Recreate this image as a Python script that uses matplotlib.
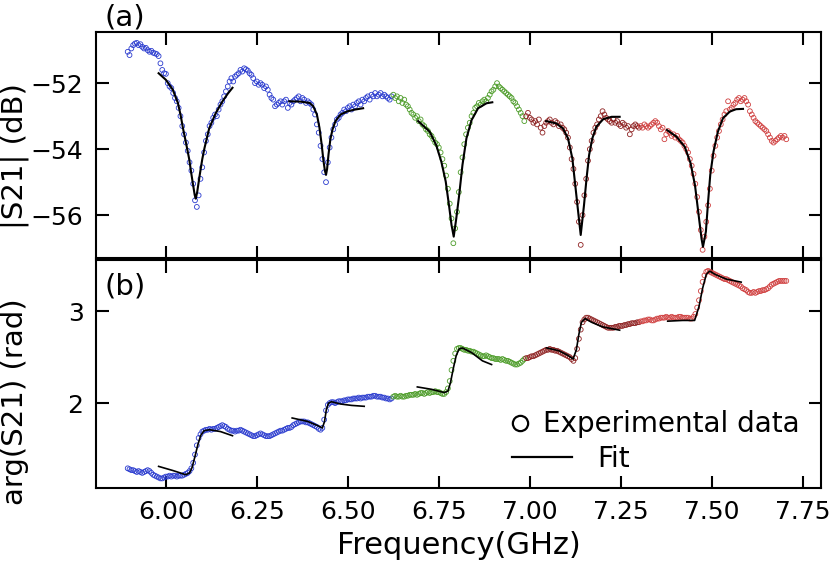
import numpy as np
import matplotlib
matplotlib.use("Agg")
import matplotlib.pyplot as plt
from matplotlib.lines import Line2D

# 扫频网格起点（GHz），步长 0.005
f0_blue, f0_green, f0_dred, f0_red = 5.895, 6.625, 6.990, 7.305
step = 0.005

# |S21| (dB)
mag_blue = [
    -51.05, -51.15, -50.95, -50.85, -50.80, -50.78, -50.85, -50.82, -50.90, -50.95,
    -50.93, -51.00, -51.05, -51.02, -51.08, -51.10, -51.12, -51.18, -51.40, -51.60,
    -51.70, -51.72, -52.00, -52.10, -52.15, -52.30, -52.45, -52.55, -52.75, -53.00,
    -53.30, -53.55, -53.80, -54.05, -54.40, -54.65, -55.05, -55.55, -55.75, -55.40,
    -54.90, -54.55, -54.10, -53.75, -53.55, -53.30, -53.20, -53.05, -52.95, -53.00,
    -52.80, -52.65, -52.55, -52.40, -52.25, -52.10, -51.95, -51.85, -51.95, -51.80,
    -51.75, -51.70, -51.60, -51.65, -51.55, -51.58, -51.62, -51.70, -51.75, -51.85,
    -52.00, -51.95, -52.05, -52.00, -52.05, -52.15, -52.10, -52.20, -52.35, -52.45,
    -52.50, -52.70, -52.65, -52.60, -52.55, -52.65, -52.55, -52.50, -52.75, -52.60,
    -52.65, -52.55, -52.50, -52.45, -52.40, -52.55, -52.45, -52.50, -52.60, -52.55,
    -52.60, -52.65, -52.80, -52.95, -53.25, -53.50, -53.90, -54.30, -54.70, -55.00,
    -54.40, -53.95, -53.65, -53.40, -53.25, -53.10, -53.05, -52.95, -52.90, -52.80,
    -52.85, -52.75, -52.70, -52.80, -52.65, -52.70, -52.60, -52.55, -52.65, -52.50,
    -52.55, -52.45, -52.40, -52.50, -52.35, -52.40, -52.30, -52.40, -52.35, -52.30,
    -52.40, -52.35, -52.40, -52.45, -52.50, -52.40,
]
mag_green = [
    -52.35, -52.45, -52.40, -52.55, -52.45, -52.60, -52.50, -52.65, -52.70, -52.80,
    -52.90, -52.95, -53.05, -53.00, -53.15, -53.10, -53.25, -53.30, -53.40, -53.45,
    -53.55, -53.60, -53.70, -53.80, -53.85, -53.95, -54.10, -54.30, -54.50, -54.80,
    -55.20, -55.65, -56.10, -56.85, -56.40, -55.90, -55.30, -54.70, -54.25, -53.85,
    -53.55, -53.35, -53.20, -53.00, -52.90, -52.75, -52.70, -52.60, -52.65, -52.55,
    -52.50, -52.55, -52.45, -52.35, -52.25, -52.20, -52.10, -52.00, -52.10, -52.15,
    -52.20, -52.25, -52.30, -52.35, -52.40, -52.45, -52.55, -52.60, -52.70, -52.80,
    -52.90, -53.00, -53.15,
]
mag_dred = [
    -53.00, -52.90, -53.05, -53.10, -53.20, -53.15, -53.25, -53.10, -53.35, -53.50,
    -53.30, -53.20, -53.15, -53.10, -53.20, -53.25, -53.15, -53.20, -53.30, -53.25,
    -53.35, -53.40, -53.50, -53.65, -53.95, -54.30, -54.60, -55.05, -55.60, -56.20,
    -56.90, -56.00, -55.40, -54.90, -54.35, -54.00, -53.75, -53.50, -53.35, -53.25,
    -53.10, -53.00, -52.85, -52.95, -53.05, -53.10, -53.15, -53.20, -53.10, -53.20,
    -53.15, -53.25, -53.30, -53.20, -53.25, -53.35, -53.30, -53.55, -53.40, -53.30,
    -53.25, -53.30, -53.35,
]
mag_red = [
    -53.30, -53.35, -53.25, -53.30, -53.35, -53.30, -53.25, -53.20, -53.15, -53.20,
    -53.30, -53.40, -53.35, -53.70, -53.55, -53.45, -53.50, -53.60, -53.55, -53.65,
    -53.60, -53.70, -53.75, -53.80, -53.90, -54.00, -54.10, -54.30, -54.50, -54.75,
    -55.05, -55.45, -55.90, -56.45, -57.05, -56.65, -56.20, -55.70, -55.20, -54.65,
    -54.20, -53.90, -53.65, -53.45, -53.25, -53.10, -52.95, -52.85, -52.55, -52.80,
    -52.75, -52.65, -52.60, -52.50, -52.45, -52.55, -52.50, -52.45, -52.55, -52.65,
    -52.85, -52.95, -53.05, -53.15, -53.20, -53.25, -53.30, -53.35, -53.40, -53.45,
    -53.55, -53.65, -53.75, -53.80, -53.75, -53.70, -53.65, -53.60, -53.65, -53.60,
    -53.70,
]

# arg(S21) (rad)
ph_blue = [
    1.29, 1.28, 1.27, 1.27, 1.26, 1.25, 1.26, 1.25, 1.24, 1.25,
    1.26, 1.27, 1.26, 1.24, 1.22, 1.21, 1.20, 1.19, 1.18, 1.18,
    1.19, 1.20, 1.20, 1.21, 1.20, 1.21, 1.21, 1.20, 1.21, 1.21,
    1.21, 1.22, 1.23, 1.24, 1.26, 1.29, 1.35, 1.44, 1.54, 1.62,
    1.66, 1.69, 1.70, 1.71, 1.71, 1.72, 1.71, 1.72, 1.72, 1.73,
    1.74, 1.75, 1.76, 1.75, 1.74, 1.72, 1.71, 1.70, 1.70, 1.69,
    1.70, 1.70, 1.71, 1.70, 1.69, 1.68, 1.67, 1.66, 1.65, 1.64,
    1.64, 1.65, 1.66, 1.67, 1.66, 1.65, 1.64, 1.64, 1.64, 1.65,
    1.66, 1.67, 1.68, 1.69, 1.70, 1.70, 1.71, 1.72, 1.73, 1.73,
    1.74, 1.76, 1.77, 1.78, 1.79, 1.80, 1.80, 1.80, 1.79, 1.79,
    1.78, 1.77, 1.76, 1.75, 1.74, 1.72, 1.71, 1.73, 1.82, 1.92,
    1.98, 2.00, 2.01, 2.01, 2.00, 2.01, 2.02, 2.02, 2.02, 2.03,
    2.03, 2.04, 2.04, 2.04, 2.05, 2.05, 2.05, 2.06, 2.05, 2.06,
    2.06, 2.06, 2.07, 2.07, 2.07, 2.08, 2.08, 2.07, 2.07, 2.07,
    2.06, 2.06, 2.05, 2.05, 2.04, 2.05,
]
ph_green = [
    2.07, 2.08, 2.07, 2.07, 2.08, 2.07, 2.07, 2.08, 2.08, 2.09,
    2.09, 2.09, 2.10, 2.09, 2.10, 2.11, 2.11, 2.10, 2.11, 2.12,
    2.11, 2.12, 2.12, 2.13, 2.12, 2.12, 2.11, 2.10, 2.10, 2.12,
    2.16, 2.24, 2.36, 2.46, 2.54, 2.59, 2.60, 2.60, 2.59, 2.58,
    2.58, 2.57, 2.57, 2.56, 2.56, 2.55, 2.54, 2.53, 2.52, 2.51,
    2.51, 2.52, 2.51, 2.50, 2.49, 2.49, 2.48, 2.48, 2.48, 2.47,
    2.48, 2.47, 2.46, 2.46, 2.45, 2.44, 2.43, 2.42, 2.42, 2.43,
    2.44, 2.46, 2.48,
]
ph_dred = [
    2.49, 2.49, 2.50, 2.51, 2.51, 2.52, 2.53, 2.54, 2.55, 2.56,
    2.57, 2.58, 2.58, 2.59, 2.58, 2.58, 2.57, 2.57, 2.56, 2.55,
    2.54, 2.53, 2.52, 2.51, 2.50, 2.48, 2.46, 2.49, 2.59, 2.70,
    2.80, 2.88, 2.91, 2.93, 2.93, 2.92, 2.91, 2.90, 2.89, 2.88,
    2.87, 2.86, 2.85, 2.84, 2.83, 2.82, 2.82, 2.82, 2.82, 2.83,
    2.83, 2.84, 2.84, 2.84, 2.85, 2.85, 2.86, 2.86, 2.87, 2.87,
    2.87, 2.88, 2.88,
]
ph_red = [
    2.89, 2.89, 2.90, 2.90, 2.91, 2.91, 2.90, 2.90, 2.91, 2.92,
    2.92, 2.93, 2.93, 2.93, 2.94, 2.93, 2.93, 2.94, 2.93, 2.93,
    2.93, 2.94, 2.94, 2.93, 2.93, 2.93, 2.93, 2.92, 2.92, 2.94,
    2.97, 3.04, 3.12, 3.22, 3.32, 3.39, 3.43, 3.44, 3.43, 3.42,
    3.41, 3.40, 3.39, 3.38, 3.37, 3.36, 3.35, 3.35, 3.34, 3.33,
    3.32, 3.31, 3.30, 3.29, 3.28, 3.27, 3.25, 3.24, 3.23, 3.21,
    3.20, 3.20, 3.21, 3.20, 3.21, 3.22, 3.22, 3.23, 3.23, 3.24,
    3.25, 3.27, 3.29, 3.30, 3.31, 3.32, 3.33, 3.33, 3.33, 3.33,
    3.33,
]

# 拟合曲线 (a)
fit_a_f = [
    [5.980, 6.000, 6.019, 6.033, 6.041, 6.047, 6.056, 6.064, 6.070, 6.075, 6.079,
     6.082, 6.086, 6.093, 6.100, 6.106, 6.119, 6.137, 6.155, 6.170, 6.183],
    [6.339, 6.370, 6.395, 6.405, 6.415, 6.422, 6.428, 6.433, 6.437, 6.440, 6.443,
     6.447, 6.452, 6.458, 6.466, 6.480, 6.500, 6.520, 6.542],
    [6.693, 6.725, 6.743, 6.757, 6.769, 6.778, 6.785, 6.791, 6.798, 6.806, 6.815,
     6.826, 6.840, 6.858, 6.881, 6.897],
    [7.045, 7.073, 7.091, 7.105, 7.117, 7.126, 7.133, 7.140, 7.149, 7.156, 7.163,
     7.172, 7.183, 7.202, 7.225, 7.247],
    [7.377, 7.403, 7.426, 7.442, 7.454, 7.463, 7.472, 7.476, 7.484, 7.490, 7.496,
     7.505, 7.517, 7.531, 7.550, 7.567, 7.586],
]
fit_a_v = [
    [-51.70, -51.90, -52.20, -52.60, -53.00, -53.37, -53.85, -54.30, -54.75, -55.10, -55.38,
     -55.50, -55.30, -54.78, -54.30, -53.97, -53.37, -52.91, -52.56, -52.32, -52.14],
    [-52.55, -52.56, -52.60, -52.70, -52.95, -53.35, -53.85, -54.35, -54.65, -54.78, -54.60,
     -54.15, -53.70, -53.40, -53.15, -52.95, -52.85, -52.80, -52.76],
    [-53.15, -53.47, -53.88, -54.38, -54.98, -55.70, -56.30, -56.65, -56.10, -55.39, -54.48,
     -53.67, -53.12, -52.76, -52.61, -52.58],
    [-53.15, -53.22, -53.37, -53.67, -54.28, -55.19, -55.90, -56.60, -55.70, -54.89, -54.18,
     -53.67, -53.32, -53.09, -53.02, -53.02],
    [-53.42, -53.62, -53.93, -54.43, -55.09, -55.90, -56.71, -56.96, -56.50, -55.60, -54.78,
     -54.07, -53.47, -53.06, -52.86, -52.79, -52.78],
]
# 拟合曲线 (b)
fit_b_f = [
    [5.980, 6.020, 6.055, 6.065, 6.072, 6.080, 6.088, 6.096, 6.105, 6.120, 6.150, 6.183],
    [6.347, 6.390, 6.420, 6.430, 6.436, 6.441, 6.447, 6.455, 6.480, 6.510, 6.545],
    [6.691, 6.730, 6.765, 6.775, 6.782, 6.790, 6.798, 6.806, 6.815, 6.840, 6.870, 6.895],
    [7.046, 7.080, 7.105, 7.119, 7.128, 7.135, 7.142, 7.152, 7.170, 7.200, 7.247],
    [7.379, 7.420, 7.453, 7.465, 7.475, 7.485, 7.494, 7.510, 7.540, 7.581],
]
fit_b_v = [
    [1.311, 1.265, 1.220, 1.240, 1.300, 1.420, 1.550, 1.650, 1.700, 1.710, 1.690, 1.645],
    [1.838, 1.800, 1.750, 1.730, 1.800, 1.930, 2.000, 2.015, 1.990, 1.975, 1.965],
    [2.176, 2.150, 2.115, 2.130, 2.220, 2.380, 2.520, 2.590, 2.600, 2.550, 2.460, 2.420],
    [2.601, 2.570, 2.520, 2.480, 2.580, 2.750, 2.880, 2.920, 2.880, 2.830, 2.794],
    [2.892, 2.900, 2.900, 3.050, 3.250, 3.400, 3.437, 3.400, 3.350, 3.317],
]

segments = [
    (f0_blue, mag_blue, ph_blue, '#2b3ccf'),
    (f0_green, mag_green, ph_green, '#4c9c28'),
    (f0_dred, mag_dred, ph_dred, '#8e2222'),
    (f0_red, mag_red, ph_red, '#d04040'),
]

plt.rcParams['font.family'] = 'DejaVu Sans'
fig = plt.figure(figsize=(8.3, 5.71), dpi=100)
ax1 = fig.add_axes([0.1157, 0.548, 0.8733, 0.396])
ax2 = fig.add_axes([0.1157, 0.1454, 0.8733, 0.3996])

for f0, mag, ph, col in segments:
    f = f0 + step * np.arange(len(mag))
    ax1.scatter(f, mag, s=12, facecolors='none', edgecolors=col, linewidths=0.6, zorder=2)
    ax2.scatter(f, ph, s=12, facecolors='none', edgecolors=col, linewidths=0.6, zorder=2)

for fx, fy in zip(fit_a_f, fit_a_v):
    ax1.plot(fx, fy, color='black', lw=1.5, zorder=3)
for fx, fy in zip(fit_b_f, fit_b_v):
    ax2.plot(fx, fy, color='black', lw=1.2, zorder=3)

for ax in (ax1, ax2):
    ax.set_xlim(5.808, 7.80)
    ax.set_xticks(np.arange(6.0, 7.76, 0.25))
    ax.tick_params(direction='in', length=9, width=1.5, top=True, right=True,
                   labelsize=18, pad=9)
    for sp in ax.spines.values():
        sp.set_linewidth(1.5)

ax1.set_ylim(-57.3, -50.45)
ax1.set_yticks([-56, -54, -52])
ax1.tick_params(labelbottom=False)
ax1.set_ylabel('|S21| (dB)', fontsize=21)
ax1.yaxis.set_label_coords(-0.092, 0.45)
ax1.text(0.012, 1.004, '(a)', transform=ax1.transAxes, fontsize=21,
         ha='left', va='bottom')

ax2.set_ylim(1.076, 3.56)
ax2.set_yticks([2, 3])
ax2.set_xticklabels(['%.2f' % v for v in np.arange(6.0, 7.76, 0.25)])
ax2.set_ylabel('arg(S21) (rad)', fontsize=21)
ax2.yaxis.set_label_coords(-0.092, 0.38)
ax2.set_xlabel('Frequency(GHz)', fontsize=22, labelpad=5)
ax2.text(0.012, 0.945, '(b)', transform=ax2.transAxes, fontsize=21,
         ha='left', va='top')

h_data = Line2D([], [], ls='none', marker='o', markersize=11, markerfacecolor='none',
                markeredgecolor='black', markeredgewidth=1.6)
h_fit = Line2D([], [], color='black', lw=1.6)
leg1 = ax2.legend([h_data], ['Experimental data'], loc='center left',
                  bbox_to_anchor=(0.574, 0.279), frameon=False, fontsize=20,
                  handlelength=0.6, handletextpad=0.5, borderpad=0, borderaxespad=0)
ax2.add_artist(leg1)
ax2.legend([h_fit], ['Fit'], loc='center left', bbox_to_anchor=(0.574, 0.127),
           frameon=False, fontsize=20, handlelength=2.16, handletextpad=0.9,
           borderpad=0, borderaxespad=0)

fig.savefig('out.png', dpi=100)
